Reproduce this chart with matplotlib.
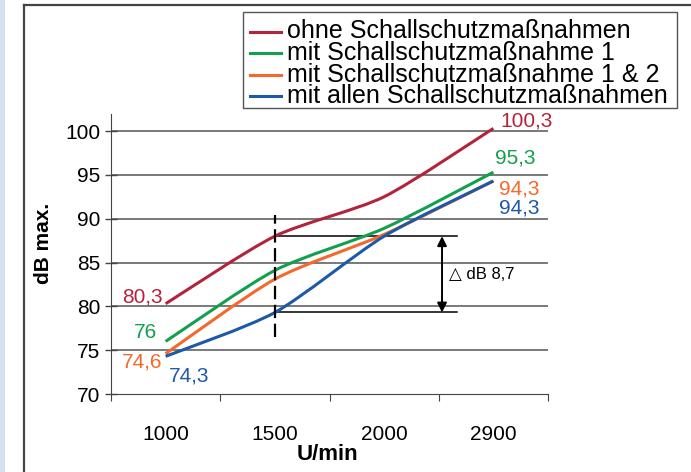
import matplotlib
matplotlib.use("Agg")
import matplotlib.pyplot as plt
from matplotlib.path import Path
from matplotlib.patches import PathPatch, Rectangle
from matplotlib.lines import Line2D

plt.rcParams["font.family"] = ["Liberation Sans", "DejaVu Sans"]

# ── data ──
rpm = ["1000", "1500", "2000", "2900"]
ohne = [80.3, 88.0, 92.5, 100.3]
mit_1 = [76.0, 84.1, 88.9, 95.3]
mit_12 = [74.6, 83.1, 88.2, 94.3]
mit_alle = [74.3, 79.3, 88.0, 94.3]
series_names = ["ohne Schallschutzmaßnahmen", "mit Schallschutzmaßnahme 1",
                "mit Schallschutzmaßnahme 1 & 2", "mit allen Schallschutzmaßnahmen"]
delta_label = "△ dB 8,7"
yticks = [70, 75, 80, 85, 90, 95, 100]

RED, GREEN, ORANGE, BLUE = "#B2243A", "#12A04C", "#F4692B", "#1E59A8"
colors = [RED, GREEN, ORANGE, BLUE]
series = [ohne, mit_1, mit_12, mit_alle]

W, H = 691, 472
fig = plt.figure(figsize=(W / 100, H / 100), dpi=100)


def fx(px):
    return px / W


def fy(py):
    return 1 - py / H


# outer frame (left / top edge of the surrounding box)
fig.patches.append(Rectangle((0, 0), fx(5), 1, transform=fig.transFigure,
                             color="#d6e0f0", lw=0))
fig.lines.append(Line2D([fx(24.5), fx(24.5)], [0, fy(5)], transform=fig.transFigure,
                        color="#444444", lw=1.6))
fig.lines.append(Line2D([fx(24.5), 1], [fy(5), fy(5)], transform=fig.transFigure,
                        color="#444444", lw=1.6))

ax = fig.add_axes([fx(111), fy(394), fx(548 - 111), (394 - 114) / H])
ax.set_xlim(-0.5, 3.5)
ax.set_ylim(70, 101.94)

TENSION = 8   # tangent divisor for the smoothed lines


def smooth_path(y):
    """Excel-style smoothed line: cubic Bezier through the points."""
    pts = list(zip(range(len(y)), y))
    verts = [pts[0]]
    codes = [Path.MOVETO]
    for i in range(len(pts) - 1):
        p0 = pts[max(i - 1, 0)]
        p1, p2 = pts[i], pts[i + 1]
        p3 = pts[min(i + 2, len(pts) - 1)]
        c1 = (p1[0] + (p2[0] - p0[0]) / TENSION, p1[1] + (p2[1] - p0[1]) / TENSION)
        c2 = (p2[0] - (p3[0] - p1[0]) / TENSION, p2[1] - (p3[1] - p1[1]) / TENSION)
        verts += [c1, c2, p2]
        codes += [Path.CURVE4] * 3
    return Path(verts, codes)


# gridlines
for v in yticks[1:]:
    ax.axhline(v, color="#555555", lw=1.1, zorder=1)

for y, c in zip(series, colors):
    ax.add_patch(PathPatch(smooth_path(y), fill=False, edgecolor=c, lw=2.2,
                           capstyle="butt", zorder=3))

# value labels at both ends  (offsets in points)
left_off = [(-2, 5), (-6, 6.5), (-2.5, -6), (2.5, -14)]
right_off = [(5, 5), (1, 10), (4, -6), (4, -19.5)]
for y, c, lo, ro in zip(series, colors, left_off, right_off):
    ax.annotate(f"{y[0]:g}".replace(".", ","), (0, y[0]), textcoords="offset points",
                xytext=lo, ha="right" if lo[0] < 0 else "left", va="center",
                fontsize=15, color=c)
    ax.annotate(f"{y[-1]:g}".replace(".", ","), (3, y[-1]), textcoords="offset points",
                xytext=ro, ha="left", va="center", fontsize=15, color=c)

# dashed marker at 1500 rpm and the difference arrow
ax.plot([1, 1], [76.5, 90.4], color="black", lw=1.6, ls=(0, (6, 2.5)), zorder=4)
ax.plot([1, 2.67], [ohne[1], ohne[1]], color="black", lw=1.1, zorder=2)
ax.plot([1, 2.67], [mit_alle[1], mit_alle[1]], color="black", lw=1.1, zorder=2)
ax.annotate("", xy=(2.53, ohne[1]), xytext=(2.53, mit_alle[1]),
            arrowprops=dict(arrowstyle="<|-|>", color="black", lw=1.4,
                            mutation_scale=14, shrinkA=0, shrinkB=0))
ax.text(2.59, (ohne[1] + mit_alle[1]) / 2, delta_label, fontsize=12,
        va="center", ha="left")

# axes styling
for s in ("top", "right"):
    ax.spines[s].set_visible(False)
ax.spines["left"].set_color("#444444")
ax.spines["bottom"].set_color("#444444")
ax.set_yticks(yticks)
ax.tick_params(axis="y", direction="inout", length=9, width=1, color="#444444",
               labelsize=15, pad=3)
ax.set_xticks([-0.5, 0.5, 1.5, 2.5, 3.5])
ax.set_xticklabels([])
ax.tick_params(axis="x", which="major", direction="out", length=5, color="#444444")
ax.set_xticks(range(len(rpm)), minor=True)
ax.set_xticklabels(rpm, minor=True)
ax.tick_params(axis="x", which="minor", length=0, labelsize=15, pad=22)

fig.text(fx(44), fy(243), "dB max.", rotation=90, ha="center", va="center",
         fontsize=15, fontweight="bold")
fig.text(fx(327), fy(455), "U/min", ha="center", va="center",
         fontsize=16, fontweight="bold")

# legend box drawn by hand (Excel-style tight line spacing)
fig.patches.append(Rectangle((fx(243), fy(108)), fx(677 - 243), (108 - 12) / H,
                             transform=fig.transFigure, fill=False,
                             edgecolor="#555555", lw=1))
for i, (name, c) in enumerate(zip(series_names, colors)):
    yy = fy(31.5 + i * 21.5)
    fig.lines.append(Line2D([fx(250), fx(281)], [yy, yy], transform=fig.transFigure,
                            color=c, lw=2.2))
    fig.text(fx(287), yy, name, ha="left", va="center", fontsize=18)

fig.savefig("out.png", dpi=100)
